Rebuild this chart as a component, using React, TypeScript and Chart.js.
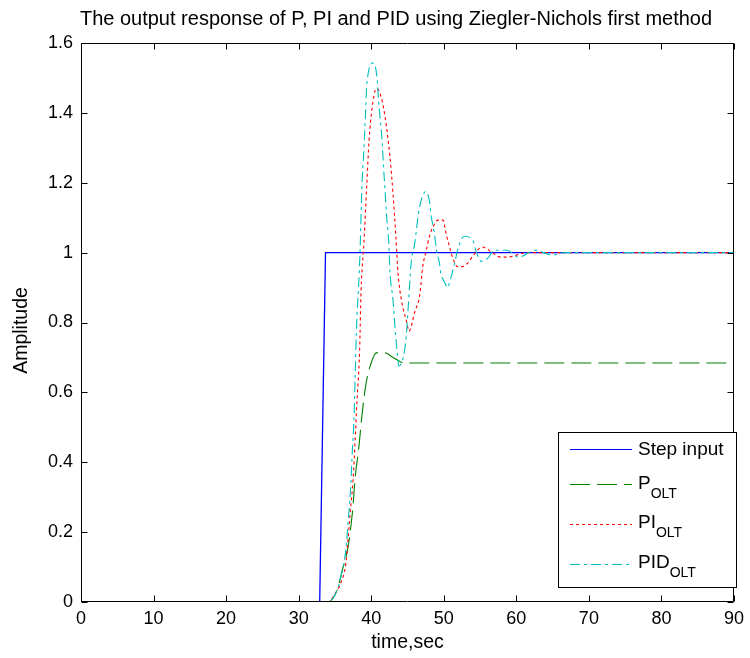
import React, { useEffect, useRef } from 'react';
import { Chart, registerables } from 'chart.js';

Chart.register(...registerables);

const TITLE = 'The output response of P, PI and PID using Ziegler-Nichols first method';
const X_LABEL = 'time,sec';
const Y_LABEL = 'Amplitude';

const xTicks = [0, 10, 20, 30, 40, 50, 60, 70, 80, 90];
const yTicks = [0, 0.2, 0.4, 0.6, 0.8, 1, 1.2, 1.4, 1.6];
const yTickLabels = ['0', '0.2', '0.4', '0.6', '0.8', '1', '1.2', '1.4', '1.6'];

const legendMain = ['Step input', 'P', 'PI', 'PID'];
const legendSub = ['', 'OLT', 'OLT', 'OLT'];

const stepT = [0, 32.9, 33.7, 90];
const stepV = [0, 0, 1, 1];

const pT = [0, 34, 35.3, 36, 36.8, 37.4, 37.8, 38.3, 38.7, 39.3, 39.9, 40.7, 41.9, 43, 44.6, 90];
const pV = [0, 0, 0.034, 0.09, 0.157, 0.255, 0.358, 0.444, 0.53, 0.627, 0.678, 0.713, 0.713, 0.7, 0.684, 0.684];

const piT = [0, 34, 35.1, 35.8, 36.5, 36.8, 37.1, 37.5, 37.8, 38.0, 38.4, 38.6, 39.0, 39.4, 39.7, 40.1, 40.7, 41.2, 41.9, 42.6, 43.0, 43.4, 43.7, 44.2, 44.9, 45.2, 46.0, 46.7, 47.1, 47.6, 48.0, 48.5, 49.2, 49.9, 50.3, 50.8, 51.2, 51.9, 52.6, 53.3, 54.0, 55.3, 56.7, 57.8, 58.7, 61.5, 90];
const piV = [0, 0, 0.026, 0.054, 0.11, 0.177, 0.255, 0.35, 0.47, 0.56, 0.72, 0.89, 1.03, 1.2, 1.32, 1.41, 1.47, 1.457, 1.39, 1.27, 1.17, 1.045, 0.94, 0.86, 0.8, 0.775, 0.83, 0.88, 0.96, 1.007, 1.045, 1.073, 1.093, 1.093, 1.056, 1.016, 0.987, 0.96, 0.96, 0.97, 0.99, 1.016, 1.0, 0.987, 0.987, 1.0, 1.0];

const pidT = [0, 34, 35.0, 35.8, 36.5, 36.9, 37.2, 37.4, 37.6, 37.8, 38.0, 38.3, 38.5, 38.7, 39.0, 39.2, 39.4, 40.3, 40.8, 41.0, 41.2, 41.5, 41.7, 41.9, 42.1, 42.4, 42.6, 43.0, 43.3, 43.6, 43.8, 44.6, 44.9, 45.1, 45.3, 45.5, 46.0, 46.5, 46.9, 47.5, 48.0, 48.3, 48.7, 49.0, 49.4, 49.6, 50.1, 50.5, 51.0, 51.5, 51.9, 52.4, 52.8, 54.0, 54.4, 55.2, 56.2, 56.9, 58.7, 60.3, 62.6, 64.9, 66.7, 90];
const pidV = [0, 0, 0.02, 0.07, 0.15, 0.25, 0.34, 0.435, 0.51, 0.655, 0.8, 0.92, 1.03, 1.18, 1.3, 1.39, 1.485, 1.543, 1.5, 1.437, 1.39, 1.32, 1.245, 1.18, 1.11, 1.036, 0.94, 0.865, 0.78, 0.71, 0.675, 0.72, 0.78, 0.845, 0.91, 0.97, 1.027, 1.11, 1.15, 1.175, 1.15, 1.1, 1.056, 1.007, 0.97, 0.94, 0.916, 0.9, 0.93, 0.97, 1.007, 1.036, 1.047, 1.036, 1.007, 0.975, 0.987, 1.007, 1.007, 0.987, 1.007, 0.993, 1.0, 1.0];

const COLORS = ['rgb(0,0,255)', 'rgb(0,128,0)', 'rgb(255,0,0)', 'rgb(0,191,191)'];
const DASHES: number[][] = [[], [20, 7], [3, 3], [10, 4, 3, 4]];
const FONT = "'Liberation Sans', Arial, sans-serif";

const toPts = (t: number[], v: number[]) => t.map((x, i) => ({ x, y: v[i] }));

const decorPlugin = {
  id: 'decor',
  afterDatasetsDraw(chart: any) {
    const { ctx, chartArea: a, scales } = chart;
    const xs = scales.x;
    const ys = scales.y;
    ctx.save();
    ctx.strokeStyle = '#000';
    ctx.lineWidth = 1;
    ctx.setLineDash([]);
    const L = Math.round(a.left) + 0.5;
    const R = Math.round(a.right) - 0.5;
    const T = Math.round(a.top) + 0.5;
    const B = Math.round(a.bottom) - 0.5;
    ctx.beginPath();
    ctx.rect(L, T, R - L, B - T);
    ctx.stroke();
    const tl = 6;
    ctx.beginPath();
    xTicks.forEach((v) => {
      const px = Math.round(xs.getPixelForValue(v)) + 0.5;
      ctx.moveTo(px, B); ctx.lineTo(px, B - tl);
      ctx.moveTo(px, T); ctx.lineTo(px, T + tl);
    });
    yTicks.forEach((v) => {
      const py = Math.round(ys.getPixelForValue(v)) + 0.5;
      ctx.moveTo(L, py); ctx.lineTo(L + tl, py);
      ctx.moveTo(R, py); ctx.lineTo(R - tl, py);
    });
    ctx.stroke();

    // title and axis titles
    ctx.fillStyle = '#000';
    ctx.textAlign = 'center';
    ctx.textBaseline = 'middle';
    ctx.font = `20px ${FONT}`;
    ctx.fillText(TITLE, 396, 19);
    ctx.font = `19.5px ${FONT}`;
    const cx = (a.left + a.right) / 2;
    ctx.fillText(X_LABEL, cx, 643);
    ctx.save();
    ctx.translate(22, (a.top + a.bottom) / 2 + 8);
    ctx.rotate(-Math.PI / 2);
    ctx.fillText(Y_LABEL, 0, 0);
    ctx.restore();

    // legend
    const bx = 558, by = 432, bw = 178, bh = 155;
    ctx.fillStyle = '#fff';
    ctx.fillRect(bx, by, bw, bh);
    ctx.strokeStyle = '#000';
    ctx.strokeRect(bx + 0.5, by + 0.5, bw, bh);
    const lineYs = [449, 484, 524, 564];
    const baseYs = [455, 489, 528, 568];
    legendMain.forEach((name, i) => {
      ctx.strokeStyle = COLORS[i];
      ctx.lineWidth = 1;
      ctx.setLineDash(DASHES[i]);
      ctx.beginPath();
      ctx.moveTo(570, lineYs[i] + 0.5);
      ctx.lineTo(632, lineYs[i] + 0.5);
      ctx.stroke();
      ctx.setLineDash([]);
      ctx.fillStyle = '#000';
      ctx.textAlign = 'left';
      ctx.textBaseline = 'alphabetic';
      ctx.font = `19px ${FONT}`;
      ctx.fillText(name, 638, baseYs[i]);
      if (legendSub[i]) {
        const w = ctx.measureText(name).width;
        ctx.font = `14px ${FONT}`;
        ctx.fillText(legendSub[i], 638 + w, baseYs[i] + 9);
      }
    });
    ctx.restore();
  },
};

export default function App() {
  const ref = useRef<HTMLCanvasElement | null>(null);
  useEffect(() => {
    if (!ref.current) return;
    const series = [toPts(stepT, stepV), toPts(pT, pV), toPts(piT, piV), toPts(pidT, pidV)];
    const chart = new Chart(ref.current, {
      type: 'line',
      data: {
        datasets: series.map((d, i) => ({
          label: legendMain[i] + legendSub[i],
          data: d,
          borderColor: COLORS[i],
          backgroundColor: COLORS[i],
          borderWidth: i === 0 ? 1.3 : 1.1,
          borderDash: DASHES[i],
          pointRadius: 0,
          fill: false,
          order: 4 - i,
          cubicInterpolationMode: i === 0 ? 'default' : 'monotone',
        })) as any,
      },
      options: {
        responsive: false,
        animation: false,
        layout: { padding: { top: 43, right: 9, left: 0, bottom: 0 } },
        plugins: { legend: { display: false }, title: { display: false }, tooltip: { enabled: false } },
        scales: {
          x: {
            type: 'linear',
            min: 0,
            max: 90,
            grid: { display: false, drawTicks: false },
            border: { display: false },
            afterBuildTicks: (s: any) => { s.ticks = xTicks.map((v) => ({ value: v })); },
            afterFit: (s: any) => { s.height = 56; },
            ticks: { padding: 6, color: '#000', font: { family: FONT, size: 18 }, maxRotation: 0, autoSkip: false, callback: (v: any) => String(v) },
          },
          y: {
            type: 'linear',
            min: 0,
            max: 1.6,
            grid: { display: false, drawTicks: false },
            border: { display: false },
            afterBuildTicks: (s: any) => { s.ticks = yTicks.map((v) => ({ value: v })); },
            afterFit: (s: any) => { s.width = 81; },
            ticks: {
              padding: 8,
              color: '#000',
              font: { family: FONT, size: 18 },
              autoSkip: false,
              callback: (v: any) => {
                const idx = yTicks.findIndex((t) => Math.abs(t - Number(v)) < 1e-6);
                return idx >= 0 ? yTickLabels[idx] : '';
              },
            },
          },
        },
      },
      plugins: [decorPlugin],
    });
    return () => chart.destroy();
  }, []);
  return (
    <div style={{ position: 'fixed', left: 0, top: 0, width: 750, height: 658, background: '#fff' }}>
      <canvas ref={ref} width={750} height={658} style={{ display: 'block' }} />
    </div>
  );
}
